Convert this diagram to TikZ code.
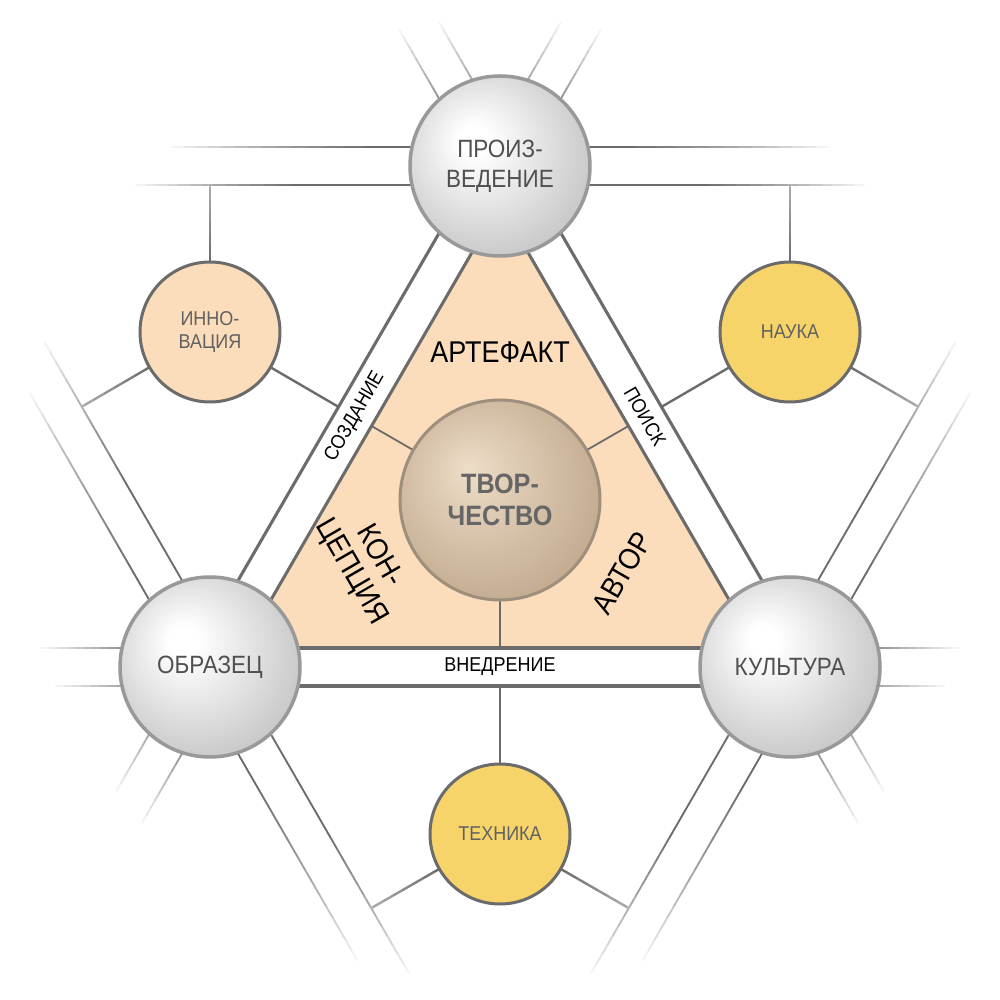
\documentclass[tikz,border=0pt]{standalone}
\usepackage{fontspec}
\setmainfont{Liberation Sans}[FakeStretch=0.9]
\usetikzlibrary{calc}

\definecolor{linegray}{HTML}{6B6B6B}
\definecolor{txtgray}{HTML}{505050}
\definecolor{peach}{HTML}{FCDDBB}
\definecolor{gold}{HTML}{F6D46A}
\definecolor{brhigh}{HTML}{EEDDC8}
\definecolor{brlow}{HTML}{B9A083}
\definecolor{brrim}{HTML}{9E8E7C}

\pgfdeclareradialshading{graysphere}{\pgfpoint{-8bp}{8bp}}{color(0bp)=(white); color(4bp)=(white); color(36bp)=(black!27); color(50bp)=(black!27)}
\pgfdeclareradialshading{brownsphere}{\pgfpoint{-8bp}{8bp}}{color(0bp)=(brhigh); color(36bp)=(brlow); color(50bp)=(brlow)}

\tikzset{
  band/.style={draw=linegray, line width=3.2pt, double=white, double distance=34.8pt},
  ray/.style={draw=linegray, line width=2pt, double=white, double distance=36pt},
  link/.style={draw=linegray, line width=2.4pt},
  spoke/.style={draw=linegray, line width=1.8pt},
  sphere/.style={circle, draw=black!40, line width=3.5pt, shading=graysphere, minimum size=180pt, inner sep=0pt, text=txtgray, font=\fontsize{25}{30}\selectfont, align=center},
  topic/.style={circle, draw=linegray, line width=3pt, minimum size=140pt, inner sep=0pt, text=black!62, font=\fontsize{20}{23.5}\selectfont, align=center},
  core/.style={circle, draw=brrim, line width=3pt, shading=brownsphere, minimum size=200pt, inner sep=0pt, text=black!60, font=\bfseries\fontsize{28}{32}\selectfont, align=center},
  sector/.style={font=\fontsize{30}{32}\selectfont, align=center, inner sep=0pt},
  bandlabel/.style={font=\fontsize{20}{24}\selectfont, inner sep=0pt}
}

\begin{document}
\begin{tikzpicture}[x=1pt,y=1pt]
\useasboundingbox (-500,-500) rectangle (500,500);
\coordinate (P) at (0,334);
\coordinate (O) at (-290,-167);
\coordinate (K) at (290,-167);
\coordinate (C) at (0,0);
\coordinate (I) at (-290,168);
\coordinate (N) at (290,168);
\coordinate (T) at (0,-334);
\coordinate (Q) at (-580,334);
\coordinate (R) at (580,334);
\coordinate (S) at (0,-668);
\coordinate (mPO) at ($(P)!.5!(O)$);
\coordinate (mPK) at ($(P)!.5!(K)$);
\coordinate (mOK) at ($(O)!.5!(K)$);
\coordinate (mPQ) at ($(P)!.5!(Q)$);
\coordinate (mOQ) at ($(O)!.5!(Q)$);
\coordinate (mPR) at ($(P)!.5!(R)$);
\coordinate (mKR) at ($(K)!.5!(R)$);
\coordinate (mOS) at ($(O)!.5!(S)$);
\coordinate (mKS) at ($(K)!.5!(S)$);

\fill[peach] (P) -- (O) -- (K) -- cycle;
\draw[link] (I) -- (mPQ);
\draw[link] (I) -- (mPO);
\draw[link] (I) -- (mOQ);
\draw[link] (N) -- (mPR);
\draw[link] (N) -- (mPK);
\draw[link] (N) -- (mKR);
\draw[link] (T) -- (mOK);
\draw[link] (T) -- (mOS);
\draw[link] (T) -- (mKS);
\draw[spoke] (C) -- (mPO);
\draw[spoke] (C) -- (mPK);
\draw[spoke] (C) -- (mOK);
\foreach \a in {0,60,120,180} \draw[ray] (P) -- ($(P)+(\a:420)$);
\foreach \a in {120,180,240,300} \draw[ray] (O) -- ($(O)+(\a:420)$);
\foreach \a in {0,60,240,300} \draw[ray] (K) -- ($(K)+(\a:420)$);
\draw[band] (P) -- (O);
\draw[band] (P) -- (K);
\draw[band] (O) -- (K);

\foreach \k [evaluate=\k as \op using 1/(15-\k), evaluate=\k as \rr using 370+8*\k] in {1,...,14}
  \fill[white, fill opacity=\op, even odd rule] (-520,-520) rectangle (520,520) (C) circle (\rr);

\node[bandlabel, rotate=60] (create) at (mPO) {СОЗДАНИЕ};
\node[bandlabel, rotate=-60] (search) at (mPK) {ПОИСК};
\node[bandlabel] (adopt) at (mOK) {ВНЕДРЕНИЕ};

\node[sphere] (work) at (P) {ПРОИЗ-\\ВЕДЕНИЕ};
\node[sphere] (sample) at (O) {ОБРАЗЕЦ};
\node[sphere] (culture) at (K) {КУЛЬТУРА};
\node[topic, fill=peach] (innov) at (I) {ИННО-\\ВАЦИЯ};
\node[topic, fill=gold] (science) at (N) {НАУКА};
\node[topic, fill=gold] (tech) at (T) {ТЕХНИКА};
\node[core] (creation) at (C) {ТВОР-\\ЧЕСТВО};

\node[sector] (artefact) at (0,148) {АРТЕФАКТ};
\node[sector, rotate=-60] (concept) at (-135,-64) {КОН-\\ЦЕПЦИЯ};
\node[sector, rotate=60] (author) at (122,-73) {АВТОР};
\end{tikzpicture}
\end{document}
